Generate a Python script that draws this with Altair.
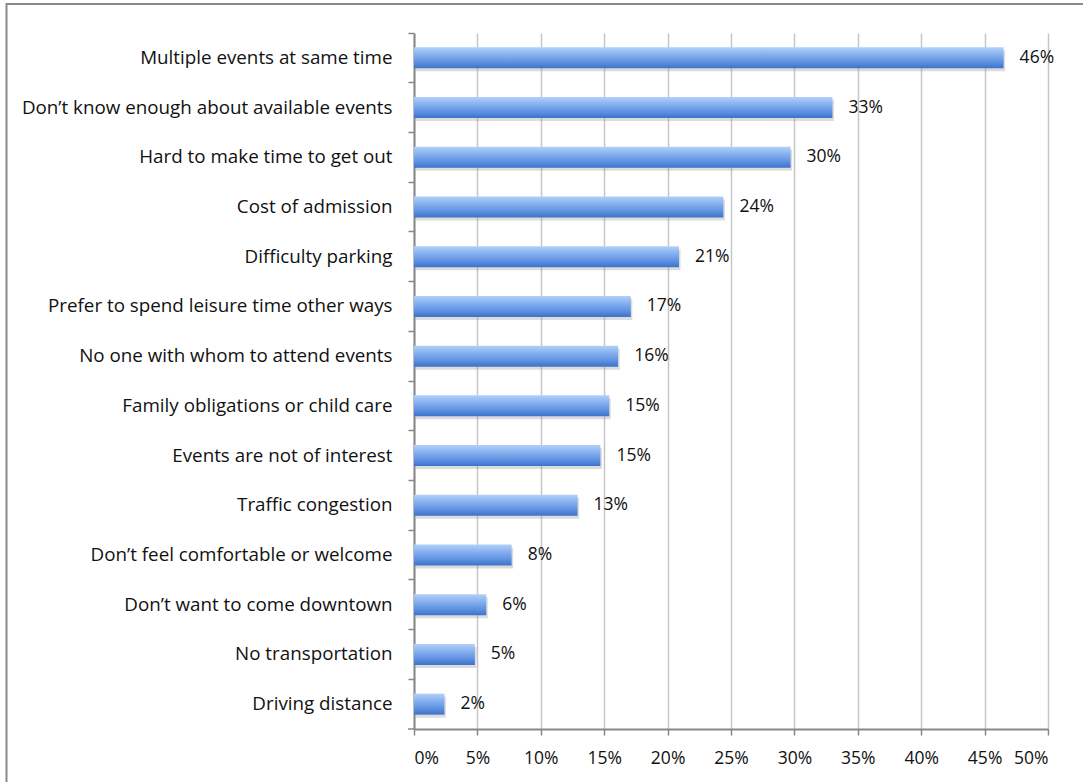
import altair as alt
import pandas as pd

categories = [
    "Multiple events at same time",
    "Don\u2019t know enough about available events",
    "Hard to make time to get out",
    "Cost of admission",
    "Difficulty parking",
    "Prefer to spend leisure time other ways",
    "No one with whom to attend events",
    "Family obligations or child care",
    "Events are not of interest",
    "Traffic congestion",
    "Don\u2019t feel comfortable or welcome",
    "Don\u2019t want to come downtown",
    "No transportation",
    "Driving distance",
]
values = [46.5, 33.0, 29.7, 24.4, 20.9, 17.1, 16.1, 15.4, 14.7, 12.9, 7.7, 5.7, 4.8, 2.4]
labels = ["46%", "33%", "30%", "24%", "21%", "17%", "16%", "15%", "15%", "13%", "8%", "6%", "5%", "2%"]
x_ticks = [0, 5, 10, 15, 20, 25, 30, 35, 40, 45, 50]

df = pd.DataFrame({"reason": categories, "value": values, "label": labels})

W, H = 634, 696
FONT = "Open Sans"

y_enc = alt.Y(
    "reason:N",
    sort=categories,
    title=None,
    scale=alt.Scale(paddingInner=0, paddingOuter=0),
    axis=alt.Axis(
        bandPosition=0,
        tickSize=6,
        tickColor="#888888",
        tickWidth=1.5,
        domainColor="#888888",
        domainWidth=2,
        labelPadding=16,
        labelFont=FONT,
        labelFontSize=18.8,
        labelColor="#111111",
        labelLimit=500,
        grid=False,
    ),
)
x_enc = alt.X(
    "value:Q",
    title=None,
    scale=alt.Scale(domain=[0, 50], nice=False, zero=True),
    axis=alt.Axis(
        values=x_ticks,
        labelExpr="datum.value + '%'",
        grid=True,
        gridColor="#c6c6c6",
        gridWidth=1.5,
        tickSize=6,
        tickColor="#888888",
        tickWidth=1.5,
        domainColor="#888888",
        domainWidth=2,
        labelPadding=14,
        labelFont=FONT,
        labelFontSize=17.5,
        labelColor="#111111",
    ),
)

base = alt.Chart(df).encode(y=y_enc, x=x_enc)

shadow = base.mark_bar(size=21, color="#9a9a9a", opacity=0.35, yOffset=3, xOffset=1.5)

bars = base.mark_bar(
    size=21,
    color=alt.Gradient(
        gradient="linear",
        x1=0, x2=0, y1=0, y2=1,
        stops=[
            alt.GradientStop(color="#b2d0f8", offset=0),
            alt.GradientStop(color="#86b0ef", offset=0.35),
            alt.GradientStop(color="#5f92e2", offset=0.7),
            alt.GradientStop(color="#3c72c9", offset=1),
        ],
    ),
)

text = base.mark_text(
    align="left", baseline="middle", dx=16, font=FONT, fontSize=17.5, color="#111111"
).encode(text="label:N")

frame_df = pd.DataFrame({"a": [0]})
top_line = alt.Chart(frame_df).mark_rule(color="#8a8a8a", strokeWidth=2).encode(
    x=alt.value(-408), x2=alt.value(680), y=alt.value(-29)
)
left_line = alt.Chart(frame_df).mark_rule(color="#8a8a8a", strokeWidth=2).encode(
    x=alt.value(-407.5), y=alt.value(-30), y2=alt.value(760)
)
corner_tick = alt.Chart(frame_df).mark_rule(color="#888888", strokeWidth=1.5).encode(
    x=alt.value(-6), x2=alt.value(0), y=alt.value(H)
)

chart = (
    alt.layer(shadow, bars, text, top_line, left_line, corner_tick)
    .properties(
        width=W,
        height=H,
        padding={"left": 414, "top": 33, "right": 35, "bottom": 53},
        autosize=alt.AutoSizeParams(type="none"),
        background="white",
    )
    .configure_view(stroke=None)
)

chart.save("out.html", embed_options={"renderer": "svg", "actions": False})
